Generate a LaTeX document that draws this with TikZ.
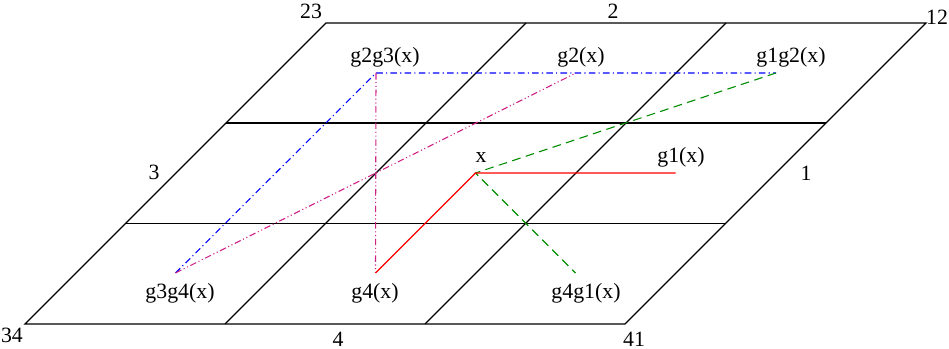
\documentclass[tikz,border=0pt]{standalone}
\usepackage{fontspec}
\setmainfont{Liberation Serif}
\usetikzlibrary{positioning}

\begin{document}
\begin{tikzpicture}[
    x=1.612cm,
    y=1.612cm,
    gridline/.style={line width=0.6pt},
    lbl/.style={inner sep=0pt, font=\normalsize},
    redpath/.style={red, line width=0.5pt},
    greenpath/.style={green!55!black, line width=0.5pt,
        dash pattern=on 4pt off 2.5pt},
    bluepath/.style={blue, line width=0.5pt,
        dash pattern=on 3pt off 1.5pt on 0.5pt off 1.5pt},
    magentapath/.style={magenta!85!black, line width=0.5pt,
        dash pattern=on 3pt off 1.2pt on 0.5pt off 1.2pt on 0.5pt off 1.2pt}
]
\useasboundingbox (0,0) rectangle (9.49,3.49);

% corners of the grid
\coordinate (c34) at (0.25,0.25);
\coordinate (c41) at (6.25,0.25);
\coordinate (c12) at (9.26,3.26);
\coordinate (c23) at (3.26,3.26);

% grid
\draw[gridline] (c34) -- (c41) -- (c12) -- (c23) -- cycle;
\coordinate (l1) at (1.255,1.255);
\coordinate (r1) at (7.255,1.255);
\coordinate (l2) at (2.26,2.26);
\coordinate (r2) at (8.26,2.26);
\draw[gridline] (l1) -- (r1);
\draw[gridline] (l2) -- (r2);
\coordinate (b1) at (2.25,0.25);
\coordinate (t1) at (5.26,3.26);
\coordinate (b2) at (4.25,0.25);
\coordinate (t2) at (7.26,3.26);
\draw[gridline] (b1) -- (t1);
\draw[gridline] (b2) -- (t2);

% edge labels
\node[lbl] (n23) at (3.11,3.38) {23};
\node[lbl] (n2) at (6.13,3.38) {2};
\node[lbl] (n12) at (9.37,3.32) {12};
\node[lbl] (n3) at (1.54,1.77) {3};
\node[lbl] (n1) at (8.06,1.76) {1};
\node[lbl] (n34) at (0.12,0.14) {34};
\node[lbl] (n4) at (3.38,0.1) {4};
\node[lbl] (n41) at (6.34,0.1) {41};

% cell centres
\coordinate (x) at (4.755,1.76);
\coordinate (g1) at (6.755,1.76);
\coordinate (g4) at (3.755,0.76);
\coordinate (g4g1) at (5.755,0.76);
\coordinate (g3g4) at (1.755,0.76);
\coordinate (g2g3) at (3.76,2.76);
\coordinate (g2) at (5.76,2.76);
\coordinate (g1g2) at (7.76,2.76);

% point labels
\node[lbl] (lx) at (4.81,1.91) {x};
\node[lbl] (lg1) at (6.81,1.92) {g1(x)};
\node[lbl] (lg2g3) at (3.85,2.92) {g2g3(x)};
\node[lbl] (lg2) at (5.81,2.92) {g2(x)};
\node[lbl] (lg1g2) at (7.91,2.92) {g1g2(x)};
\node[lbl] (lg3g4) at (1.80,0.56) {g3g4(x)};
\node[lbl] (lg4) at (3.75,0.56) {g4(x)};
\node[lbl] (lg4g1) at (5.86,0.56) {g4g1(x)};

% paths
\draw[bluepath] (g3g4) -- (g2g3) -- (g1g2);
\draw[magentapath] (g3g4) -- (g2);
\draw[magentapath] (g2g3) -- (g4);
\draw[greenpath] (g1g2) -- (x) -- (g4g1);
\draw[redpath] (g4) -- (x) -- (g1);
\end{tikzpicture}
\end{document}
